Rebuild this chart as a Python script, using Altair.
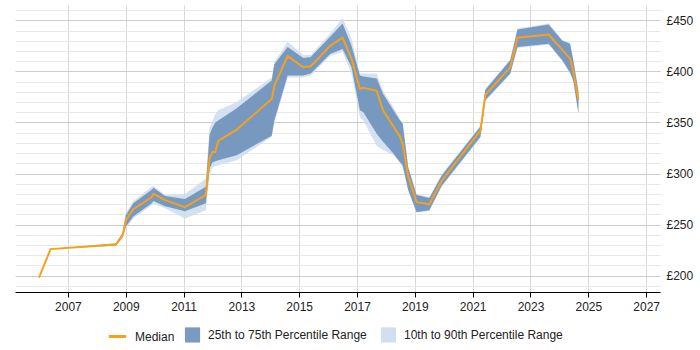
import altair as alt
import pandas as pd

# Decimal year of each observation
years = [2006.0, 2006.4, 2008.66, 2008.9, 2009.0, 2009.26, 2009.9, 2009.96,
         2010.36, 2011.05, 2011.77, 2011.9, 2012.0, 2012.1, 2012.2, 2012.84,
         2014.05, 2014.14, 2014.6, 2015.14, 2015.4, 2016.07, 2016.5, 2016.81,
         2017.1, 2017.22, 2017.68, 2017.9, 2018.26, 2018.49, 2018.58, 2018.77,
         2019.06, 2019.5, 2019.93, 2021.27, 2021.44, 2022.3, 2022.55, 2023.63,
         2024.1, 2024.37, 2024.48, 2024.66]

median = [198, 226, 230.5, 240, 254, 265, 277, 280,
          274, 267, 279, 315, 321, 321, 332, 343,
          373, 386, 415, 404, 405, 425, 433, 412.5,
          383, 384, 381, 362, 346, 336, 329, 297,
          272, 270, 293, 342, 377, 404, 433, 436,
          421, 412.5, 400, 372]

p25 = [198, 226, 229.5, 238, 248, 258, 271, 273,
       268, 263, 271, 305, 311, 312, 313, 318,
       337, 352, 396, 396, 398, 417, 422, 404,
       362, 360, 339, 331, 319.5, 311, 308, 284,
       262, 264, 288, 336, 372, 398, 424, 427,
       411, 399, 391, 359]

p75 = [198, 226, 231.5, 242, 259, 271, 284, 286,
       278, 275, 287, 338, 345, 350, 352, 364,
       391, 407, 424, 413, 414, 434, 447, 425,
       396, 395, 393, 378, 362, 352, 349, 306,
       279, 276, 298, 346, 382, 411, 441, 446,
       430, 427, 411, 380]

p10 = [198, 226, 229, 237, 246, 256, 269, 271,
       266, 256, 264, 298, 306, 307, 308, 313,
       336, 350, 394, 394, 396, 415, 419, 398,
       355, 352, 327, 323, 318, 310, 306, 283,
       262, 263, 287, 335, 371, 397, 423, 426,
       410, 398, 390, 358]

p90 = [198, 226, 232, 243, 261, 273, 287, 288,
       279, 280, 295, 345, 352, 358, 362, 370,
       394, 409, 429, 416, 416, 437, 452, 432,
       398, 398, 398, 381, 365, 353, 350, 307,
       280, 277, 299, 347, 383, 412, 442, 447,
       431, 428, 412, 381]

line_name = ["Median"]
line_color = ["#f7a01c"]
range_names = ["25th to 75th Percentile Range", "10th to 90th Percentile Range"]
range_colors = ["#6f92bc", "#cddcee"]

df = pd.DataFrame({"year": years, "median": median, "p25": p25, "p75": p75,
                   "p10": p10, "p90": p90})

x_scale = alt.Scale(domain=[2005.17, 2027.48], nice=False, zero=False)
y_scale = alt.Scale(domain=[184, 465], nice=False, zero=False)

x_axis = alt.Axis(values=list(range(2007, 2028, 2)), format="d", title=None,
                  grid=True, gridColor="#d9d9d9", domainColor="#000000",
                  tickColor="#000000", tickSize=5, labelFontSize=12,
                  labelColor="#222222", labelFont="Liberation Sans", labelPadding=4)

y_ticks = list(range(190, 470, 10))
y_axis = alt.Axis(orient="right", values=y_ticks, tickCount=len(y_ticks) + 2,
                  title=None,
                  labelExpr="datum.value % 50 === 0 ? '£' + datum.value : ''",
                  labelOverlap=False,
                  gridColor={"condition": {"test": "datum.value % 50 === 0", "value": "#cccccc"},
                             "value": "#e8e8e8"},
                  ticks=False, domain=False, labelFontSize=12, labelColor="#222222",
                  labelFont="Liberation Sans", labelPadding=6)

legend_style = dict(title=None, orient="none", direction="horizontal",
                    labelFontSize=12, labelFont="Liberation Sans",
                    labelColor="#222222", labelOffset=7)

base = alt.Chart(df)

outer = base.mark_area(opacity=0.85).transform_calculate(
    band="'" + range_names[1] + "'"
).encode(
    x=alt.X("year:Q", scale=x_scale, axis=x_axis),
    y=alt.Y("p10:Q", scale=y_scale, axis=y_axis),
    y2="p90:Q",
    fill=alt.Fill(
        "band:N",
        scale=alt.Scale(domain=range_names, range=range_colors),
        legend=alt.Legend(legendX=169, legendY=321, symbolType="square",
                          symbolSize=230, symbolOpacity=1, columnPadding=13,
                          **legend_style),
    ),
)

inner = base.mark_area(opacity=0.92).transform_calculate(
    band="'" + range_names[0] + "'"
).encode(
    x="year:Q",
    y="p25:Q",
    y2="p75:Q",
    fill="band:N",
)

line = base.mark_line(strokeWidth=2).transform_calculate(
    band="'" + line_name[0] + "'"
).encode(
    x="year:Q",
    y="median:Q",
    stroke=alt.Stroke(
        "band:N",
        scale=alt.Scale(domain=line_name, range=line_color),
        legend=alt.Legend(legendX=92, legendY=321, symbolType="stroke",
                          symbolStrokeWidth=3, symbolSize=300, **legend_style),
    ),
)

chart = alt.layer(outer, inner, line).resolve_scale(
    fill="shared", stroke="independent"
).properties(
    width=645, height=287,
    autosize=alt.AutoSizeParams(type="none"),
    padding={"left": 15, "top": 5, "right": 40, "bottom": 58},
).configure_view(stroke=None)

chart.save("out.html", embed_options={"renderer": "svg", "actions": False})
